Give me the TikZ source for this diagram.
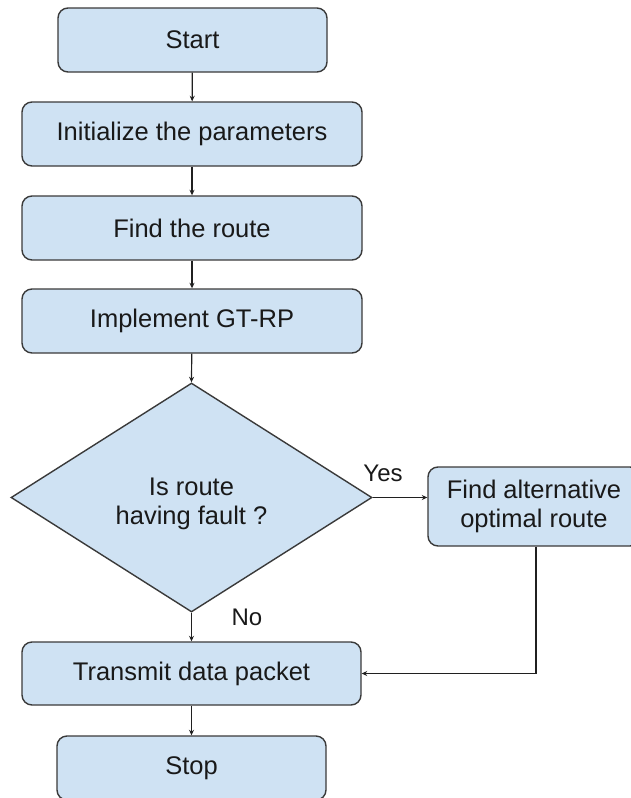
\documentclass[tikz,border=0pt]{standalone}
\usepackage{fontspec}
\setmainfont{Liberation Sans}
\usetikzlibrary{shapes.geometric,arrows.meta}
\definecolor{boxfill}{HTML}{CFE2F3}
\definecolor{boxline}{HTML}{3A3A3A}
\definecolor{inkline}{HTML}{202020}
\tikzset{
  stepbox/.style={draw=boxline, fill=boxfill, line width=1.4pt, rounded corners=10pt,
    align=center, inner sep=0pt, font=\fontsize{25.5}{29.5}\selectfont, text=black!90},
  decision/.style={diamond, draw=boxline, fill=boxfill, line width=1.4pt, inner sep=0pt},
  flow/.style={draw=inkline, line width=1.2pt, -{Stealth[length=5.5pt,width=5pt]}},
  tag/.style={font=\fontsize{24}{28}\selectfont, text=black!90}
}
\begin{document}
\begin{tikzpicture}[x=1pt,y=-1pt]
  \useasboundingbox (0,0) rectangle (630,798);

  % main column of steps
  \node[stepbox, minimum width=269pt, minimum height=64pt] (start) at (192.5,40) {Start};
  \node[stepbox, minimum width=340pt, minimum height=64pt] (init) at (192,134) {Initialize the parameters};
  \node[stepbox, minimum width=340pt, minimum height=64pt] (route) at (192,228) {Find the route};
  \node[stepbox, minimum width=340pt, minimum height=64pt] (impl) at (192,321) {Implement GT-RP};

  % fault check: the question sits a little below the diamond's centre
  \node[decision, minimum width=361pt, minimum height=229pt] (fault) at (191.5,497.5) {};
  \node[align=center, font=\fontsize{25.5}{29.5}\selectfont, text=black!90] (faultq) at (191.5,504)
    {Is route\\having fault ?};

  % alternative route branch
  \node[stepbox, minimum width=212pt, minimum height=79pt] (alt) at (534,506.5) {Find alternative\\optimal route};

  \node[stepbox, minimum width=339pt, minimum height=63pt] (send) at (191.5,673.5) {Transmit data packet};
  \node[stepbox, minimum width=269pt, minimum height=64pt] (stop) at (191.5,768) {Stop};

  % connectors
  \draw[flow] (start) -- (init);
  \draw[flow] (init) -- (route);
  \draw[flow] (route) -- (impl);
  \draw[flow] (impl) -- (fault.north);
  \draw[flow] (fault.south) -- (send);
  \draw[flow] (fault.east) -- (fault.east -| alt.west);
  \draw[flow] ([xshift=2pt]alt.south) |- (send.east);
  \draw[flow] (send) -- (stop);

  % branch labels
  \node[tag] (yes) at (383,473) {Yes};
  \node[tag] (no) at (247,617) {No};
\end{tikzpicture}
\end{document}
